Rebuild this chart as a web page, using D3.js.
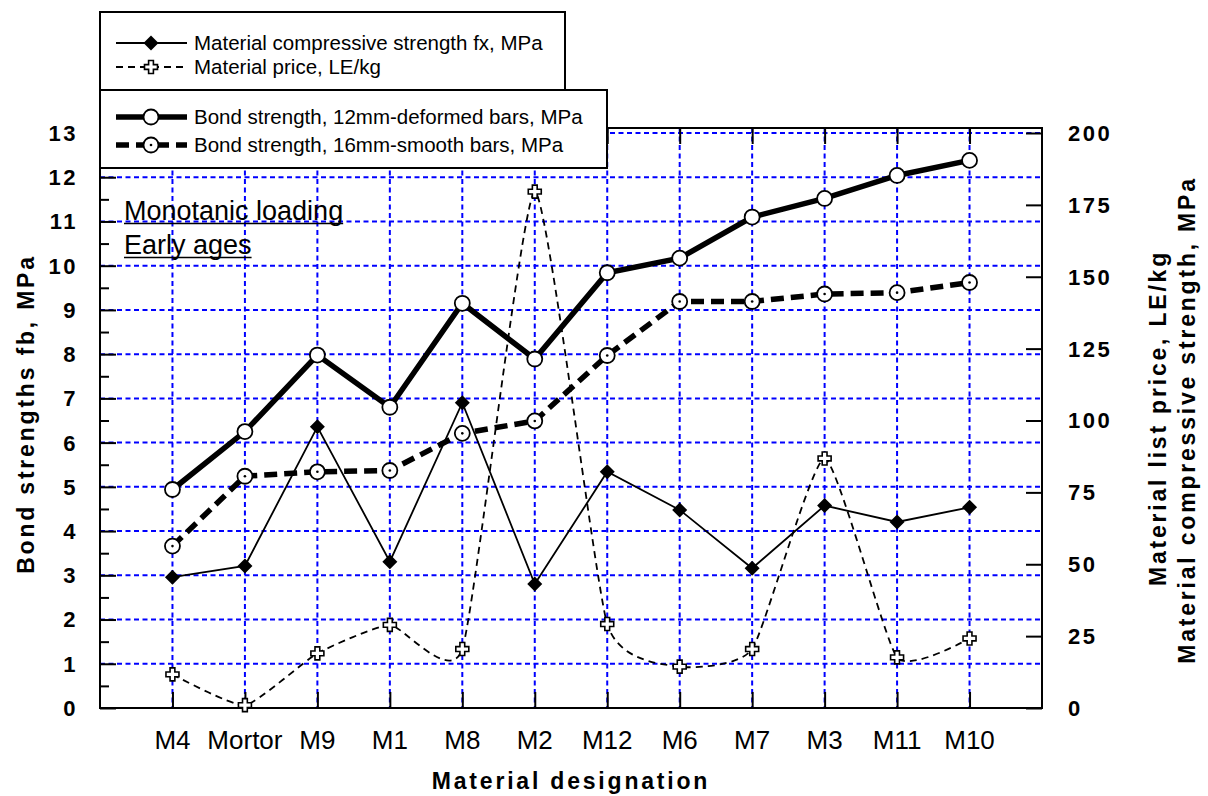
<!DOCTYPE html>
<html>
<head>
<meta charset="utf-8">
<script src="https://cdn.jsdelivr.net/npm/d3@7"></script>
<style>
  html, body { margin: 0; padding: 0; background: #fff; }
  svg { display: block; font-family: "Liberation Sans", Arial, sans-serif; }
</style>
</head>
<body>
<svg id="chart" width="1208" height="796"></svg>
<script>
// Materials along the x axis
const materials = ["M4", "Mortor", "M9", "M1", "M8", "M2", "M12", "M6", "M7", "M3", "M11", "M10"];

// Bond strength (left axis, MPa)
const bond12Deformed = [4.94, 6.25, 7.98, 6.80, 9.15, 7.89, 9.84, 10.17, 11.10, 11.52, 12.04, 12.38];
const bond16Smooth   = [3.66, 5.24, 5.34, 5.37, 6.21, 6.49, 7.97, 9.19, 9.19, 9.36, 9.39, 9.62];

// Right axis series
const compressiveStrength = [45.5, 49.4, 97.8, 50.9, 106.2, 43.1, 82.2, 68.9, 48.6, 70.4, 64.7, 69.8];
const materialPrice       = [11.7, 1.0, 19.0, 28.9, 20.5, 179.6, 29.2, 14.4, 20.5, 86.8, 17.6, 24.2];

// Tick values
const leftTicks  = d3.range(0, 14);
const leftMinor  = d3.range(0.5, 13, 1);
const rightTicks = d3.range(0, 201, 25);

const legendTop = [
  { label: "Material compressive strength fx, MPa", key: "fx" },
  { label: "Material price, LE/kg", key: "price" }
];
const legendBottom = [
  { label: "Bond strength, 12mm-deformed bars, MPa", key: "b12" },
  { label: "Bond strength, 16mm-smooth bars, MPa", key: "b16" }
];

const svg = d3.select("#chart");
const frame = { left: 100, right: 1042, top: 128, bottom: 708 };

const x = d3.scaleLinear().domain([0, materials.length + 1]).range([frame.left, frame.right]);
const yL = d3.scaleLinear().domain([0, 13]).range([708, 133]);
const yR = d3.scaleLinear().domain([0, 200]).range([708, 133]);
const xi = i => x(i + 1);

const BLUE = "#0000ff";
const gridDash = "5,3.5";

// grid
const grid = svg.append("g");
grid.selectAll("line.h").data(leftTicks.filter(v => v > 0)).join("line")
  .attr("x1", frame.left).attr("x2", frame.right)
  .attr("y1", d => yL(d)).attr("y2", d => yL(d))
  .attr("stroke", BLUE).attr("stroke-width", 2).attr("stroke-dasharray", gridDash);
grid.selectAll("line.v").data(materials).join("line")
  .attr("x1", (d, i) => xi(i)).attr("x2", (d, i) => xi(i))
  .attr("y1", frame.top).attr("y2", frame.bottom)
  .attr("stroke", BLUE).attr("stroke-width", 2).attr("stroke-dasharray", gridDash);

// frame
svg.append("rect")
  .attr("x", frame.left).attr("y", frame.top)
  .attr("width", frame.right - frame.left).attr("height", frame.bottom - frame.top)
  .attr("fill", "none").attr("stroke", "#000").attr("stroke-width", 2);

// axes with inward ticks
const leftAxis = svg.append("g").attr("transform", `translate(${frame.left},0)`)
  .call(d3.axisRight(yL).tickValues(leftTicks).tickSize(16).tickFormat(""));
leftAxis.select(".domain").remove();
const leftMinorAxis = svg.append("g").attr("transform", `translate(${frame.left},0)`)
  .call(d3.axisRight(yL).tickValues(leftMinor).tickSize(9).tickFormat(""));
leftMinorAxis.select(".domain").remove();
svg.append("g").selectAll("text").data(leftTicks).join("text")
  .attr("x", 78).attr("y", d => yL(d)).attr("dy", "0.36em")
  .attr("text-anchor", "end").attr("font-weight", "bold").attr("font-size", 22)
  .attr("letter-spacing", 2.5)
  .text(d => d);

const rightAxis = svg.append("g").attr("transform", `translate(${frame.right},0)`)
  .call(d3.axisLeft(yR).tickValues(rightTicks).tickSize(16).tickFormat(""));
rightAxis.select(".domain").remove();
svg.append("g").selectAll("text").data(rightTicks).join("text")
  .attr("x", 1068).attr("y", d => yR(d)).attr("dy", "0.36em")
  .attr("text-anchor", "start").attr("font-weight", "bold").attr("font-size", 22)
  .attr("letter-spacing", 2.5)
  .text(d => d);

const bottomAxis = svg.append("g").attr("transform", `translate(0,${frame.bottom})`)
  .call(d3.axisTop(x).tickValues(d3.range(1, materials.length + 1)).tickSize(16).tickFormat(""));
bottomAxis.select(".domain").remove();
const topAxis = svg.append("g").attr("transform", `translate(0,${frame.top})`)
  .call(d3.axisBottom(x).tickValues(d3.range(1, materials.length + 1)).tickSize(16).tickFormat(""));
topAxis.select(".domain").remove();
svg.selectAll(".tick line").attr("stroke", "#000").attr("stroke-width", 2);

svg.append("g").selectAll("text").data(materials).join("text")
  .attr("x", (d, i) => xi(i)).attr("y", 749)
  .attr("text-anchor", "middle").attr("font-size", 26)
  .text(d => d);

// axis titles
const title = (t, tr) => svg.append("text").attr("transform", tr)
  .attr("text-anchor", "middle").attr("font-weight", "bold").attr("font-size", 23)
  .attr("letter-spacing", 2.8).text(t);
title("Material designation", "translate(571,789)");
title("Bond strengths fb, MPa", "translate(34,414) rotate(-90)");
title("Material list price, LE/kg", "translate(1166,418) rotate(-90)");
title("Material compressive strength, MPa", "translate(1195,420) rotate(-90)");

// annotation
const note = svg.append("g").attr("font-size", 27);
[["Monotanic loading", 220], ["Early ages", 254]].forEach(([t, yy]) => {
  const el = note.append("text").attr("x", 124).attr("y", yy).text(t);
  const w = el.node().getComputedTextLength();
  note.append("line").attr("x1", 124).attr("x2", 124 + w)
    .attr("y1", yy + 3.5).attr("y2", yy + 3.5).attr("stroke", "#000").attr("stroke-width", 1.5);
});

// markers
const diamond = (g, cx, cy) => g.append("path")
  .attr("d", `M${cx},${cy - 7.5}L${cx + 7.5},${cy}L${cx},${cy + 7.5}L${cx - 7.5},${cy}Z`)
  .attr("fill", "#000");
const cross = (g, cx, cy) => {
  const a = 6.5, b = 2.4;
  g.append("path")
    .attr("d", `M${cx - b},${cy - a}H${cx + b}V${cy - b}H${cx + a}V${cy + b}H${cx + b}V${cy + a}H${cx - b}V${cy + b}H${cx - a}V${cy - b}H${cx - b}Z`)
    .attr("fill", "#fff").attr("stroke", "#000").attr("stroke-width", 1.6);
};
const ring = (g, cx, cy, dot) => {
  g.append("circle").attr("cx", cx).attr("cy", cy).attr("r", 7.5)
    .attr("fill", "#fff").attr("stroke", "#000").attr("stroke-width", 1.8);
  if (dot) g.append("circle").attr("cx", cx).attr("cy", cy).attr("r", 1.3).attr("fill", "#000");
};

const styles = {
  fx:    { width: 1.8, dash: null, marker: (g, a, b) => diamond(g, a, b) },
  price: { width: 1.8, dash: "7,5", marker: (g, a, b) => cross(g, a, b) },
  b12:   { width: 5.5, dash: null, marker: (g, a, b) => ring(g, a, b, false) },
  b16:   { width: 5.5, dash: "13,7", marker: (g, a, b) => ring(g, a, b, true) }
};

const plot = svg.append("g");
function series(values, yScale, key, curve) {
  const st = styles[key];
  const line = d3.line().x((d, i) => xi(i)).y(d => yScale(d)).curve(curve);
  plot.append("path").attr("d", line(values))
    .attr("fill", "none").attr("stroke", "#000").attr("stroke-width", st.width)
    .attr("stroke-dasharray", st.dash);
  const mg = plot.append("g");
  values.forEach((v, i) => st.marker(mg, xi(i), yScale(v)));
}
series(materialPrice, yR, "price", d3.curveCardinal.tension(0.5));
series(compressiveStrength, yR, "fx", d3.curveLinear);
series(bond16Smooth, yL, "b16", d3.curveLinear);
series(bond12Deformed, yL, "b12", d3.curveLinear);

// legends
function legendBox(items, bx, by, bw, bh, rowY) {
  const g = svg.append("g");
  g.append("rect").attr("x", bx).attr("y", by).attr("width", bw).attr("height", bh)
    .attr("fill", "#fff").attr("stroke", "#000").attr("stroke-width", 2);
  items.forEach((it, k) => {
    const st = styles[it.key];
    const yy = rowY[k];
    g.append("line").attr("x1", 116).attr("x2", 187).attr("y1", yy).attr("y2", yy)
      .attr("stroke", "#000").attr("stroke-width", st.width).attr("stroke-dasharray", st.dash);
    st.marker(g, 151, yy);
    g.append("text").attr("x", 194).attr("y", yy).attr("dy", "0.36em")
      .attr("font-size", 20.5).text(it.label);
  });
}
legendBox(legendTop, 100, 12, 465, 78, [43, 67]);
legendBox(legendBottom, 100, 90, 507, 78, [117, 145]);
</script>
</body>
</html>
